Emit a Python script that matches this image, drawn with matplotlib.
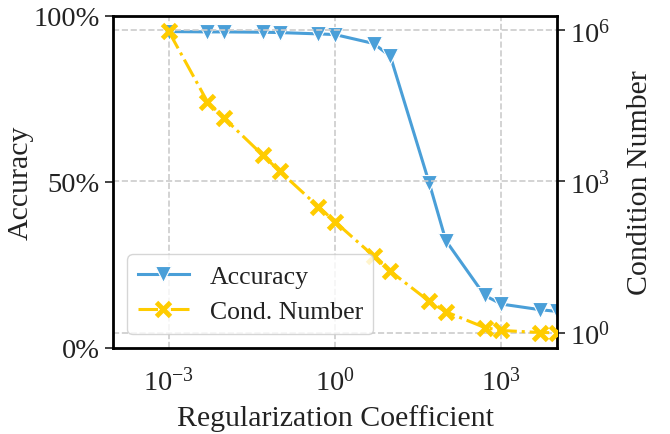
import matplotlib
matplotlib.use("Agg")
import matplotlib.pyplot as plt
from matplotlib.ticker import PercentFormatter, NullLocator

plt.rcParams['font.family'] = ['Liberation Serif', 'DejaVu Serif']
plt.rcParams['mathtext.fontset'] = 'custom'
plt.rcParams['mathtext.rm'] = 'Liberation Serif'
plt.rcParams['mathtext.it'] = 'Liberation Serif:italic'

# regularization coefficients
coef = [1e-3, 5e-3, 1e-2, 5e-2, 1e-1, 5e-1, 1, 5, 10, 50, 100, 500, 1000, 5000, 10000]
# accuracy in percent
accuracy = [95.3, 95.2, 95.2, 95.1, 95.0, 94.6, 94.4, 91.7, 87.8, 49.7, 32.3, 15.8, 13.2, 11.5, 11.0]
# condition number
cond_number = [9.5e5, 3.8e4, 1.8e4, 3.3e3, 1.6e3, 316, 159, 33, 16.5, 4.2, 2.6, 1.27, 1.11, 1.01, 1.0]

blue = '#4a9fd8'
yellow = '#ffcc00'
txt = '#222222'

fig = plt.figure(figsize=(6.7, 4.35), dpi=100)
ax = fig.add_axes([0.169, 0.198, 0.662, 0.763])
ax2 = ax.twinx()

l1, = ax.plot(coef, accuracy, color=blue, linewidth=2.2, marker='v', markersize=11,
              markeredgecolor='white', markeredgewidth=0.8, label='Accuracy', zorder=3)
l2, = ax2.plot(coef, cond_number, color=yellow, linewidth=2.2, linestyle='-.', marker='x',
               markersize=10, markeredgewidth=3.5, label='Cond. Number', zorder=3)

ax.set_xscale('log')
ax.set_xlim(1e-4, 1e4)
ax.set_ylim(0, 100)
ax.yaxis.set_major_formatter(PercentFormatter(decimals=0))
ax.set_yticks([0, 50, 100])
ax.set_xticks([1e-3, 1e0, 1e3])
ax.xaxis.set_minor_locator(NullLocator())

ax2.set_yscale('log')
ax2.set_ylim(10 ** -0.3, 10 ** 6.28)
ax2.set_yticks([1e0, 1e3, 1e6])
ax2.yaxis.set_minor_locator(NullLocator())

ax.grid(True, axis='x', linestyle='--', color='#cccccc', linewidth=1.2)
ax2.grid(True, axis='y', linestyle='--', color='#cccccc', linewidth=1.2)
ax2.set_axisbelow(True)

ax.tick_params(axis='x', length=0, labelsize=20.5, pad=14, colors=txt)
ax.tick_params(axis='y', length=6, width=1.2, labelsize=20.5, colors=txt)
ax2.tick_params(axis='y', length=6, width=1.2, labelsize=20.5, colors=txt)

for sp in ax2.spines.values():
    sp.set_linewidth(2)
    sp.set_color('black')

ax.set_xlabel('Regularization Coefficient', fontsize=21.5, color=txt, labelpad=6)
ax.set_ylabel('Accuracy', fontsize=21.5, color=txt, labelpad=0)
ax2.set_ylabel('Condition Number', fontsize=21.5, color=txt, labelpad=12)

leg = ax2.legend([l1, l2], ['Accuracy', 'Cond. Number'], loc='lower left',
                 fontsize=18.5, frameon=True, fancybox=True, framealpha=0.8,
                 edgecolor='#cccccc', borderaxespad=0.55, handlelength=2.0)
for t in leg.get_texts():
    t.set_color(txt)

fig.savefig('out.png', dpi=100)
